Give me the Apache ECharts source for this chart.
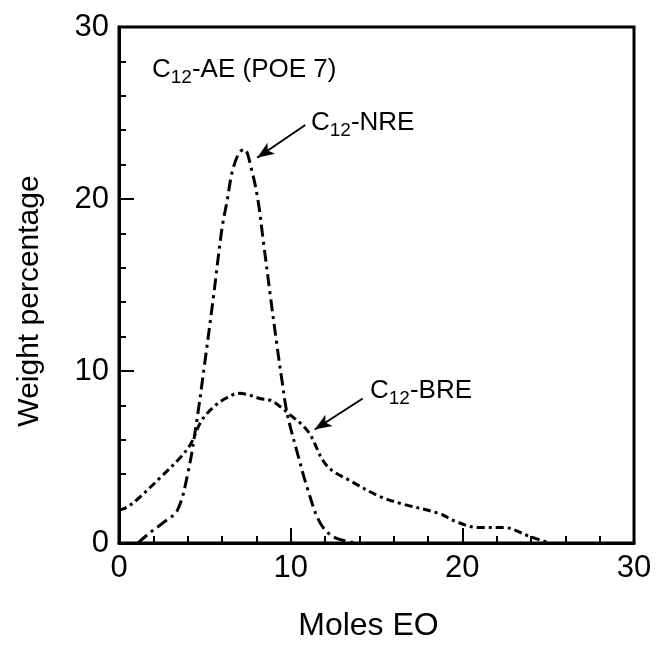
<!DOCTYPE html>
<html><head><meta charset="utf-8">
<script src="https://cdn.jsdelivr.net/npm/echarts@6/dist/echarts.min.js"></script>
<style>html,body{margin:0;padding:0;background:#fff}#c{width:656px;height:647px}</style>
</head><body><div id="c"></div>
<script>
const nreData = [[1.1,0],[1.8,0.6],[2.6,1.2],[3.4,1.9],[4.0,4.0],[4.5,6.9],[5.0,10.5],[5.5,14.3],[6.0,18.3],[6.3,19.9],[6.6,21.6],[7.0,22.7],[7.3,22.9],[7.7,21.8],[8.1,19.9],[8.4,17.6],[8.8,14.5],[9.2,11.5],[9.5,9.4],[9.8,7.5],[10.4,5.2],[11.0,3.1],[11.7,1.2],[12.5,0.35],[13.8,0]];
const breData = [[0,1.9],[0.5,2.1],[1.25,2.7],[2.4,3.8],[3.6,5.0],[4.2,5.8],[4.8,7.1],[5.5,7.9],[6.2,8.4],[7.0,8.7],[7.6,8.6],[8.2,8.4],[8.8,8.3],[9.3,8.0],[9.8,7.6],[11.0,6.5],[12.1,4.5],[13.5,3.6],[15.2,2.7],[16.4,2.3],[18.7,1.7],[19.5,1.3],[20.9,0.9],[22.4,0.9],[24.0,0.35],[25.1,0]];
const xTicks = [0,10,20,30];
const yTicks = [0,10,20,30];
const nreArrow = [[10.85,24.3],[8.05,22.4]];
const breArrow = [[14.2,8.4],[11.4,6.6]];

const chart = echarts.init(document.getElementById('c'));
const font = 'Liberation Sans, Arial, Helvetica, sans-serif';
const rich = {
  a:{fontSize:26,fontFamily:font,color:'#000',lineHeight:34,verticalAlign:'middle'},
  s:{fontSize:19,fontFamily:font,color:'#000',lineHeight:34,verticalAlign:'bottom',padding:[12,0,0,0]}
};
function arrowLine(pts){
  return {silent:true,symbol:['none','arrow'],symbolSize:[10,17],lineStyle:{color:'#000',width:2,type:'solid'},label:{show:false},
    data:[[{coord:pts[0]},{coord:pts[1]}]]};
}
chart.setOption({
  animation:false,
  grid:{left:119,right:22,top:27,bottom:104,show:true,borderColor:'#000',borderWidth:3},
  xAxis:{type:'value',min:0,max:30,interval:10,
    name:'Moles EO',nameLocation:'middle',nameGap:67,nameTextStyle:{fontSize:32,fontFamily:font,color:'#000',padding:[0,16,0,0]},
    axisLine:{lineStyle:{color:'#000',width:3}},
    axisTick:{inside:true,length:15,lineStyle:{color:'#000',width:2}},
    minorTick:{show:true,splitNumber:5,length:7,lineStyle:{color:'#000',width:2}},
    splitLine:{show:false},
    axisLabel:{fontSize:31,fontFamily:font,color:'#000',margin:10,formatter:v=>xTicks.includes(v)?String(v):''}},
  yAxis:{type:'value',min:0,max:30,interval:10,
    name:'Weight percentage',nameLocation:'middle',nameGap:74,nameTextStyle:{fontSize:30,fontFamily:font,color:'#000',padding:[0,32,0,0]},
    axisLine:{lineStyle:{color:'#000',width:3}},
    axisTick:{inside:true,length:15,lineStyle:{color:'#000',width:2}},
    minorTick:{show:true,splitNumber:5,length:7,lineStyle:{color:'#000',width:2}},
    splitLine:{show:false},
    axisLabel:{fontSize:31,fontFamily:font,color:'#000',margin:10,formatter:v=>yTicks.includes(v)?String(v):''}},
  graphic:[
    {type:'text',left:152,top:56,style:{text:'{a|C}{s|12}{a|-AE (POE 7)}',rich:rich}},
    {type:'text',left:311,top:109,style:{text:'{a|C}{s|12}{a|-NRE}',rich:rich}},
    {type:'text',left:370,top:377,style:{text:'{a|C}{s|12}{a|-BRE}',rich:rich}}
  ],
  series:[
    {type:'line',name:'NRE',data:nreData,smooth:0.35,showSymbol:false,clip:true,
      lineStyle:{color:'#000',width:3,type:[12,5,3,5]},
      markLine:arrowLine(nreArrow)},
    {type:'line',name:'BRE',data:breData,smooth:0.35,showSymbol:false,clip:true,
      lineStyle:{color:'#000',width:3,type:[8,4,3,4]},
      markLine:arrowLine(breArrow)}
  ]
});
</script></body></html>
